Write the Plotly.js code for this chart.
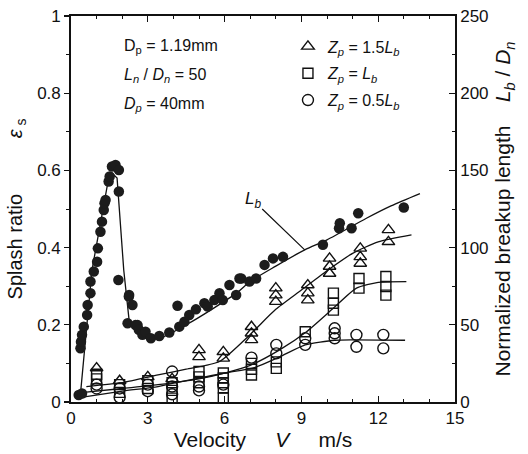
<!DOCTYPE html>
<html><head><meta charset="utf-8">
<script src="https://cdn.plot.ly/plotly-3.0.1.min.js"></script>
<style>html,body{margin:0;padding:0;background:#fff}#chart{width:528px;height:454px}</style>
</head><body><div id="chart"></div>
<script>
// Filled circles: normalized breakup length Lb/Dn (right axis)
const filledV = [0.30,0.43,0.37,0.39,0.43,0.50,0.63,0.65,0.76,0.76,0.89,1.02,1.05,1.15,1.21,1.28,1.31,1.35,1.47,1.51,1.60,1.74,1.87,1.87,1.85,2.26,2.27,2.40,2.21,2.52,2.60,2.65,2.79,2.91,3.12,3.45,3.84,4.16,4.23,4.43,4.62,4.88,5.21,5.34,5.60,5.80,5.93,6.19,6.45,6.58,6.65,6.97,7.23,7.56,7.89,8.28,9.84,10.47,10.50,10.96,11.22,13.0];
const filledLb = [4.5,5.5,34.8,39,43.5,48.8,56.3,62.8,70.5,78,84.5,90.8,99.5,110.3,116.8,124.3,128.8,130.8,142.8,146,152.5,153.5,150.3,136.3,79,68.3,69.3,62.8,51,49.8,49.8,46.8,43.5,45.5,41.3,42.8,45,62.3,48.8,52,56.3,60,64,61.8,66,70.5,66,75.8,69.3,80,80,78,80,88.8,93,94,101.8,112.5,115.8,112.5,122.3,126];
// Lb fitted curve: sharp peak part and smooth part
const lbPeakV = [0.36,0.82,1.41,1.62,1.80,2.06,2.27];
const lbPeakVal = [3.5,85.5,139.5,148,145,85.5,53];
const lbCurveV = [2.27,2.6,3.0,3.5,4.5,5.5,6.5,7.0,8.0,9.13,10.0,11.54,12.5,13.63];
const lbCurveVal = [53,45,41,41.5,50,60,71,78,88,98.5,105,119,127,135];

// Splash ratio (left axis)
const triV = [1.0,1.9,3.0,3.95,5.0,5.0,5.95,5.95,7.05,7.05,7.05,8.0,8.0,8.0,9.25,9.25,9.25,10.1,10.1,10.1,11.3,11.3,11.3,12.4,12.4];
const triEps = [0.088,0.055,0.065,0.06,0.135,0.117,0.13,0.113,0.195,0.178,0.161,0.295,0.277,0.26,0.303,0.282,0.264,0.372,0.351,0.333,0.398,0.376,0.359,0.446,0.415];
const sqV = [1.0,1.0,1.9,1.9,3.0,3.0,3.95,3.95,3.95,5.0,5.0,5.0,5.95,5.95,5.95,5.95,5.95,7.05,7.05,7.05,8.02,8.02,9.15,10.25,10.25,10.25,11.25,11.25,12.3,12.3,12.3];
const sqEps = [0.072,0.06,0.045,0.025,0.055,0.035,0.05,0.03,0.01,0.079,0.065,0.05,0.075,0.062,0.05,0.037,0.01,0.1,0.085,0.07,0.104,0.087,0.182,0.282,0.256,0.238,0.32,0.295,0.325,0.299,0.277];
const ciV = [1.0,1.0,1.9,1.9,3.0,3.0,3.95,3.95,3.95,5.0,5.0,5.95,7.05,8.02,8.02,9.15,9.15,10.3,10.3,10.3,11.15,11.15,12.2,12.2];
const ciEps = [0.045,0.035,0.035,0.012,0.045,0.028,0.079,0.04,0.02,0.04,0.03,0.045,0.115,0.148,0.126,0.165,0.148,0.191,0.178,0.165,0.174,0.143,0.174,0.139];

// Fitted curves for splash ratio
const triLineV = [0.6,2,3.4,4.5,5.8,7,8,9,10,11,12,13.3];
const triLineEps = [0.04,0.05,0.07,0.085,0.105,0.175,0.24,0.29,0.34,0.385,0.415,0.433];
const sqLineV = [0.5,2,3.4,5,6,7,8.15,9.2,10.2,11.15,12,13.1];
const sqLineEps = [0.025,0.035,0.045,0.06,0.075,0.095,0.135,0.182,0.24,0.295,0.31,0.312];
const ciLineV = [0.4,2,3.4,4.3,5,6,7.2,8.15,9.15,10.3,11,13.05];
const ciLineEps = [0.012,0.028,0.04,0.053,0.062,0.075,0.09,0.117,0.148,0.16,0.161,0.16];

const ink = '#111';
const sp = '\u00a0';
const lineStyle = {color: ink, width: 1.3};
const traces = [
  {x: triLineV, y: triLineEps, mode: 'lines', line: Object.assign({shape:'spline', smoothing:0.6}, lineStyle), showlegend:false, hoverinfo:'skip'},
  {x: sqLineV, y: sqLineEps, mode: 'lines', line: Object.assign({shape:'spline', smoothing:0.6}, lineStyle), showlegend:false, hoverinfo:'skip'},
  {x: ciLineV, y: ciLineEps, mode: 'lines', line: Object.assign({shape:'spline', smoothing:0.6}, lineStyle), showlegend:false, hoverinfo:'skip'},
  {x: lbPeakV, y: lbPeakVal, yaxis:'y2', mode:'lines', line: lineStyle, showlegend:false},
  {x: lbCurveV, y: lbCurveVal, yaxis:'y2', mode:'lines', line: Object.assign({shape:'spline', smoothing:0.8}, lineStyle), showlegend:false},
  {x: filledV, y: filledLb, yaxis:'y2', mode:'markers', marker:{symbol:'circle', size:10.5, color:'#1c1c1c', line:{width:0}}, showlegend:false},
  {x: triV, y: triEps, mode:'markers', name:'<i>Z<sub>p</sub></i> = 1.5<i>L<sub>b</sub></i>', legendgroup:'a',
   marker:{symbol:'triangle-up-open', size:11, color:ink, line:{width:1.4}}},
  {x: sqV, y: sqEps, mode:'markers', name:'<i>Z<sub>p</sub></i> = <i>L<sub>b</sub></i>', legendgroup:'b',
   marker:{symbol:'square-open', size:10, color:ink, line:{width:1.4}}},
  {x: ciV, y: ciEps, mode:'markers', name:'<i>Z<sub>p</sub></i> = 0.5<i>L<sub>b</sub></i>', legendgroup:'c',
   marker:{symbol:'circle-open', size:11, color:ink, line:{width:1.4}}}
];

const font = 'Liberation Sans, Arial, sans-serif';
const axisCommon = {showline:true, linecolor:ink, linewidth:1.8, showgrid:false, zeroline:false,
  tickfont:{family:font, size:17, color:ink}, tickcolor:ink, tickwidth:1.2};

const layout = {
  width:528, height:454,
  margin:{l:71, r:73, t:16, b:52},
  paper_bgcolor:'#fff', plot_bgcolor:'#fff',
  font:{family:font, color:ink},
  xaxis: Object.assign({}, axisCommon, {range:[0,15], tick0:0, dtick:3, ticks:'inside', ticklen:6, mirror:'ticks',
    minor:{dtick:1, ticks:'inside', ticklen:3, tickcolor:ink, tickwidth:1},
    title:{text:'Velocity'+sp.repeat(5)+'<i>V</i>'+sp.repeat(5)+'m/s', font:{family:font, size:21, color:ink}, standoff:4}}),
  yaxis: Object.assign({}, axisCommon, {range:[0,1], tick0:0, dtick:0.2, ticks:'outside', ticklen:5,
    minor:{dtick:0.1, ticks:'outside', ticklen:3, tickcolor:ink, tickwidth:1},
    title:{text:'Splash ratio'+sp.repeat(10)+'<i>ε</i><sub> s</sub>', font:{family:font, size:20, color:ink}, standoff:9}}),
  yaxis2: Object.assign({}, axisCommon, {range:[0,250], tick0:0, dtick:50, ticks:'inside', ticklen:6, overlaying:'y', side:'right',
    minor:{dtick:25, ticks:'inside', ticklen:3, tickcolor:ink, tickwidth:1},
    title:{text:'Normalized breakup length'+sp.repeat(4)+'<i>L<sub>b</sub></i> / <i>D<sub>n</sub></i>', font:{family:font, size:21, color:ink}, standoff:8}}),
  legend:{x:0.565, y:0.965, xanchor:'left', yanchor:'top', bgcolor:'rgba(0,0,0,0)', tracegroupgap:3,
    font:{family:font, size:16, color:ink}, itemwidth:30},
  annotations:[
    {xref:'paper', yref:'paper', x:0.133, y:0.92, xanchor:'left', yanchor:'middle', showarrow:false, text:'D<sub>p</sub> = 1.19mm', font:{family:font, size:16, color:ink}},
    {xref:'paper', yref:'paper', x:0.133, y:0.845, xanchor:'left', yanchor:'middle', showarrow:false, text:'<i>L<sub>n</sub></i> / <i>D<sub>n</sub></i> = 50', font:{family:font, size:16, color:ink}},
    {xref:'paper', yref:'paper', x:0.133, y:0.772, xanchor:'left', yanchor:'middle', showarrow:false, text:'<i>D<sub>p</sub></i> = 40mm', font:{family:font, size:16, color:ink}},
    {xref:'x', yref:'y2', x:9.13, y:98.5, ax:-52, ay:-50, showarrow:true, arrowhead:0, arrowwidth:1.2, arrowcolor:ink,
     text:'<i>L<sub>b</sub></i>', font:{family:font, size:17, color:ink}}
  ]
};

Plotly.newPlot('chart', traces, layout, {staticPlot:true, displayModeBar:false});
</script>
</body></html>
